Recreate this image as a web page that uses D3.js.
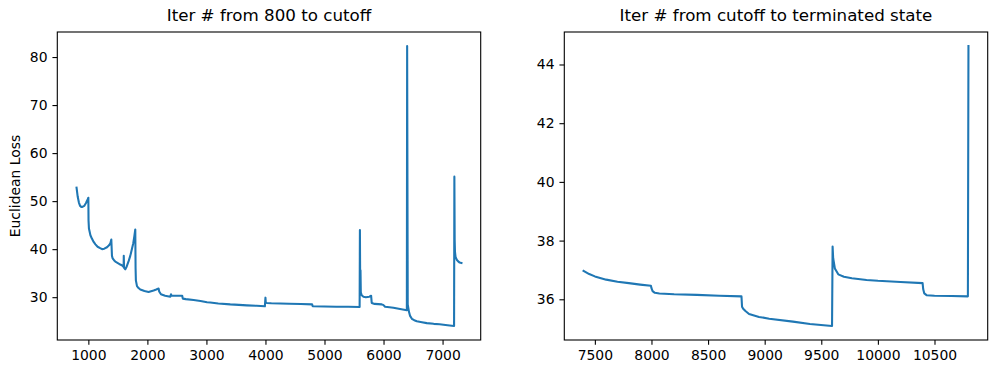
<!DOCTYPE html>
<html>
<head>
<meta charset="utf-8">
<script src="https://cdn.jsdelivr.net/npm/d3@7"></script>
<style>
  body { margin: 0; background: white; }
  svg { display: block; font-family: "DejaVu Sans", sans-serif; }
</style>
</head>
<body>
<div id="chart"></div>
<script>
// left panel: iter 800 -> cutoff
var leftIters = [800, 820, 840, 860, 880, 900, 930, 960, 990, 1000,
  1003, 1010, 1035, 1060, 1090, 1120, 1157, 1200, 1232, 1270, 1316, 1350, 1372, 1389,
  1400, 1411, 1435, 1457, 1500, 1541, 1575, 1598, 1600, 1605, 1626, 1650, 1682, 1710, 1739, 1760, 1778, 1795,
  1800, 1805, 1824, 1850, 1880, 1950, 2020, 2105, 2150, 2190,
  2200, 2230, 2300, 2388, 2400, 2410, 2500, 2590,
  2600, 2650, 2783, 2900, 3010, 3065, 3200, 3404, 3550, 3686, 3850, 3990,
  4000, 4005, 4020, 4100, 4250, 4400, 4600, 4790,
  4800, 5000, 5200, 5400, 5595,
  5600, 5605, 5610, 5615, 5630, 5660, 5700, 5760, 5790,
  5800, 5850, 5970, 5995, 6026, 6100, 6168, 6280, 6395,
  6400, 6410, 6430, 6450, 6480, 6520, 6564, 6650, 6733, 6850, 6950, 7050, 7120, 7195,
  7200, 7205, 7210, 7220, 7240, 7260, 7290, 7320];
var leftLoss = [52.8, 50.9, 49.7, 49.0, 48.8, 48.8, 49.0, 49.6, 50.4, 50.7,
  46.0, 44.3, 42.9, 42.2, 41.5, 41.0, 40.5, 40.2, 40.0, 40.1, 40.4, 40.8, 41.2, 42.0,
  38.6, 38.1, 37.7, 37.4, 37.1, 36.8, 36.6, 36.3, 38.6, 36.1, 35.8, 36.4, 37.5, 38.6, 40.1, 41.2, 42.6, 44.1,
  36.0, 33.5, 32.3, 31.9, 31.6, 31.3, 31.1, 31.4, 31.6, 31.8,
  31.2, 30.6, 30.3, 30.1, 30.6, 30.3, 30.3, 30.3,
  29.7, 29.6, 29.4, 29.2, 28.96, 28.9, 28.7, 28.5, 28.4, 28.3, 28.2, 28.1,
  29.9, 28.9, 28.8, 28.75, 28.7, 28.65, 28.58, 28.5,
  28.1, 28.05, 28.0, 28.0, 27.95,
  44.0, 32.0, 35.6, 31.0, 30.4, 30.1, 30.0, 30.1, 30.3,
  28.8, 28.6, 28.5, 28.4, 28.0, 27.9, 27.8, 27.55, 27.3,
  82.3, 28.5, 27.0, 26.1, 25.5, 25.2, 25.0, 24.8, 24.6, 24.45, 24.35, 24.2, 24.1, 24.0,
  55.1, 42.0, 39.5, 38.4, 37.8, 37.5, 37.2, 37.1];

// right panel: cutoff -> terminated state
var rightIters = [7400, 7450, 7500, 7600, 7700, 7800, 7900, 7995,
  8000, 8010, 8030, 8070, 8200, 8400, 8600, 8795,
  8800, 8810, 8830, 8862, 8950, 9040, 9250, 9400, 9595,
  9600, 9605, 9620, 9650, 9700, 9770, 9900, 10000, 10200, 10395,
  10400, 10410, 10430, 10500, 10650, 10795, 10800];
var rightLoss = [36.97, 36.86, 36.78, 36.67, 36.6, 36.55, 36.5, 36.46,
  36.38, 36.28, 36.22, 36.2, 36.17, 36.15, 36.12, 36.1,
  35.75, 35.68, 35.6, 35.5, 35.4, 35.34, 35.24, 35.16, 35.09,
  37.8, 37.4, 37.05, 36.85, 36.77, 36.72, 36.66, 36.63, 36.59, 36.55,
  36.35, 36.2, 36.14, 36.12, 36.11, 36.1, 44.63];

var leftXTicks = [1000, 2000, 3000, 4000, 5000, 6000, 7000];
var leftYTicks = [30, 40, 50, 60, 70, 80];
var rightXTicks = [7500, 8000, 8500, 9000, 9500, 10000, 10500];
var rightYTicks = [36, 38, 40, 42, 44];

var W = 996, H = 374;
var svg = d3.select("#chart").append("svg")
  .attr("width", W)
  .attr("height", H);

// matplotlib-like sizes (dpi 100)
var tickLen = 4.86, tickFont = 13.9, titleFont = 16.7;

function pad(ext) {
  var s = ext[1] - ext[0];
  return [ext[0] - 0.05 * s, ext[1] + 0.05 * s];
}

function drawPanel(cfg) {
  var w = cfg.right - cfg.left, h = cfg.bottom - cfg.top;
  var g = svg.append("g").attr("transform", "translate(" + cfg.left + "," + cfg.top + ")");

  var x = d3.scaleLinear().domain(pad(d3.extent(cfg.xs))).range([0, w]);
  var y = d3.scaleLinear().domain(pad(d3.extent(cfg.ys))).range([h, 0]);

  var pts = cfg.xs.map(function (d, i) { return [d, cfg.ys[i]]; });
  var line = d3.line()
    .x(function (d) { return x(d[0]); })
    .y(function (d) { return y(d[1]); });

  g.append("path")
    .datum(pts)
    .attr("d", line)
    .attr("fill", "none")
    .attr("stroke", "#1f77b4")
    .attr("stroke-width", 2.08)
    .attr("stroke-linejoin", "round")
    .attr("stroke-linecap", "square");

  // axes
  var xa = g.append("g")
    .attr("transform", "translate(0," + h + ")")
    .call(d3.axisBottom(x).tickValues(cfg.xTicks).tickSize(tickLen).tickPadding(5.5).tickFormat(d3.format("d")));
  var ya = g.append("g")
    .call(d3.axisLeft(y).tickValues(cfg.yTicks).tickSize(tickLen).tickPadding(4.9).tickFormat(d3.format("d")));
  [xa, ya].forEach(function (a) {
    a.select(".domain").remove();
    a.selectAll("line").attr("stroke", "black").attr("stroke-width", 1.1);
    a.selectAll("text").attr("fill", "black").style("font-size", tickFont + "px")
      .style("font-family", "DejaVu Sans, sans-serif");
  });

  // spines
  g.append("rect")
    .attr("x", 0).attr("y", 0)
    .attr("width", w).attr("height", h)
    .attr("fill", "none")
    .attr("stroke", "black")
    .attr("stroke-width", 1.1);

  g.append("text")
    .attr("x", w / 2)
    .attr("y", -11)
    .attr("text-anchor", "middle")
    .style("font-size", titleFont + "px")
    .text(cfg.title);

  if (cfg.ylabel) {
    g.append("text")
      .attr("transform", "translate(" + cfg.ylabelX + "," + (h / 2) + ") rotate(-90)")
      .attr("text-anchor", "middle")
      .style("font-size", tickFont + "px")
      .text(cfg.ylabel);
  }
}

drawPanel({
  left: 57.3, right: 480.7, top: 32, bottom: 340,
  xs: leftIters, ys: leftLoss,
  xTicks: leftXTicks, yTicks: leftYTicks,
  title: "Iter # from 800 to cutoff",
  ylabel: "Euclidean Loss", ylabelX: -37
});

drawPanel({
  left: 564.3, right: 987.7, top: 32, bottom: 340,
  xs: rightIters, ys: rightLoss,
  xTicks: rightXTicks, yTicks: rightYTicks,
  title: "Iter # from cutoff to terminated state"
});
</script>
</body>
</html>
